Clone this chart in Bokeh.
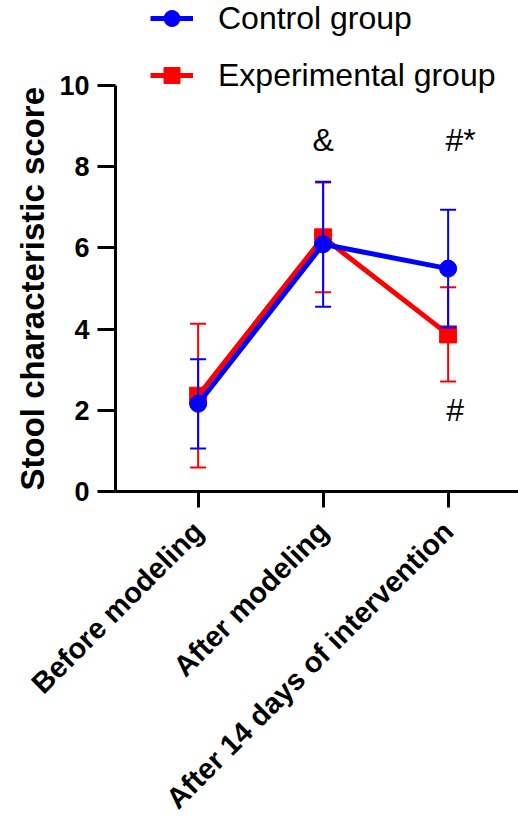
from math import pi
from bokeh.plotting import figure
from bokeh.models import (Range1d, FixedTicker, Whisker, TeeHead, ColumnDataSource,
                          Legend, LegendItem, Title)
from bokeh.core.properties import value
from bokeh.embed import file_html
from bokeh.resources import INLINE

# ---- data ----
categories = ["Before modeling", "After modeling", "After 14 days of intervention"]
x_pos = [1, 2, 3]
control_mean = [2.16, 6.09, 5.49]
control_sd = [1.10, 1.54, 1.45]
exp_mean = [2.36, 6.26, 3.87]
exp_sd = [1.77, 1.35, 1.16]
annot_text = ["&", "#*", "#"]
annot_x = [2, 3.1, 3.057]
annot_y = [8.65, 8.65, 2.0]
y_ticks = [0, 2, 4, 6, 8, 10]
y_max = 10
y_title = "Stool characteristic score"

FONT = "Liberation Sans"
BLUE = "#0000FF"
RED = "#FF0000"

# frame: left at 115px, bottom at 491px, top at canvas top; 40.6 px per unit
p = figure(width=518, height=830, output_backend="svg", toolbar_location=None,
           x_range=Range1d(0.339, 3.563), y_range=Range1d(0, 491 / 40.6),
           min_border_left=115, min_border_right=0, min_border_top=0,
           min_border_bottom=339)
p.outline_line_color = None
p.xgrid.visible = False
p.ygrid.visible = False
p.background_fill_color = "white"

def src(mean, sd):
    return ColumnDataSource(dict(x=x_pos, y=mean,
                                 lo=[m - s for m, s in zip(mean, sd)],
                                 hi=[m + s for m, s in zip(mean, sd)]))

s_exp = src(exp_mean, exp_sd)
s_ctl = src(control_mean, control_sd)

def add_series(s, color, marker):
    w = Whisker(source=s, base="x", upper="hi", lower="lo", level="glyph",
                line_color=color, line_width=2,
                upper_head=TeeHead(size=16, line_color=color, line_width=2),
                lower_head=TeeHead(size=16, line_color=color, line_width=2))
    p.add_layout(w)
    ln = p.line("x", "y", source=s, line_color=color, line_width=5)
    sc = p.scatter("x", "y", source=s, marker=marker, size=17,
                   fill_color=color, line_color=color)
    return [ln, sc]

r_exp = add_series(s_exp, RED, "square")
r_ctl = add_series(s_ctl, BLUE, "circle")

legend = Legend(items=[LegendItem(label="Control group", renderers=r_ctl),
                       LegendItem(label="Experimental group", renderers=r_exp)],
                location=(35, 396), padding=0, margin=0, spacing=17,
                glyph_width=43, glyph_height=40, label_height=40,
                label_standoff=25, border_line_color=None,
                background_fill_alpha=0,
                label_text_font=FONT, label_text_font_size="32px",
                label_text_color="black")
p.add_layout(legend)

p.text(x=annot_x, y=annot_y, text=annot_text, text_align="center",
       text_baseline="middle", text_font=value(FONT), text_font_size="32px",
       text_color="black")

# ---- axes ----
xa = p.xaxis[0]
xa.ticker = FixedTicker(ticks=x_pos)
xa.major_label_overrides = {x: c for x, c in zip(x_pos, categories)}
xa.major_label_orientation = pi / 4
xa.major_label_text_font = FONT
xa.major_label_text_font_style = "bold"
xa.major_label_text_font_size = "29px"
xa.major_label_text_color = "black"
xa.major_label_standoff = 19
xa.axis_line_width = 3
xa.axis_line_color = "black"
xa.major_tick_line_width = 3
xa.major_tick_out = 16
xa.major_tick_in = 0
xa.minor_tick_line_color = None

ya = p.yaxis[0]
ya.ticker = FixedTicker(ticks=y_ticks)
ya.bounds = (0, y_max)
ya.major_label_text_font = FONT
ya.major_label_text_font_style = "bold"
ya.major_label_text_font_size = "27px"
ya.major_label_text_color = "black"
ya.major_label_standoff = 8
ya.axis_line_width = 3
ya.axis_line_color = "black"
ya.major_tick_line_width = 3
ya.major_tick_out = 18
ya.major_tick_in = 0
ya.minor_tick_line_color = None

p.add_layout(Title(text=y_title, align="left", offset=1, standoff=12,
                   text_font=FONT, text_font_style="bold",
                   text_font_size="33px", text_color="black"), "left")

open("out.html", "w").write(file_html(p, INLINE))
